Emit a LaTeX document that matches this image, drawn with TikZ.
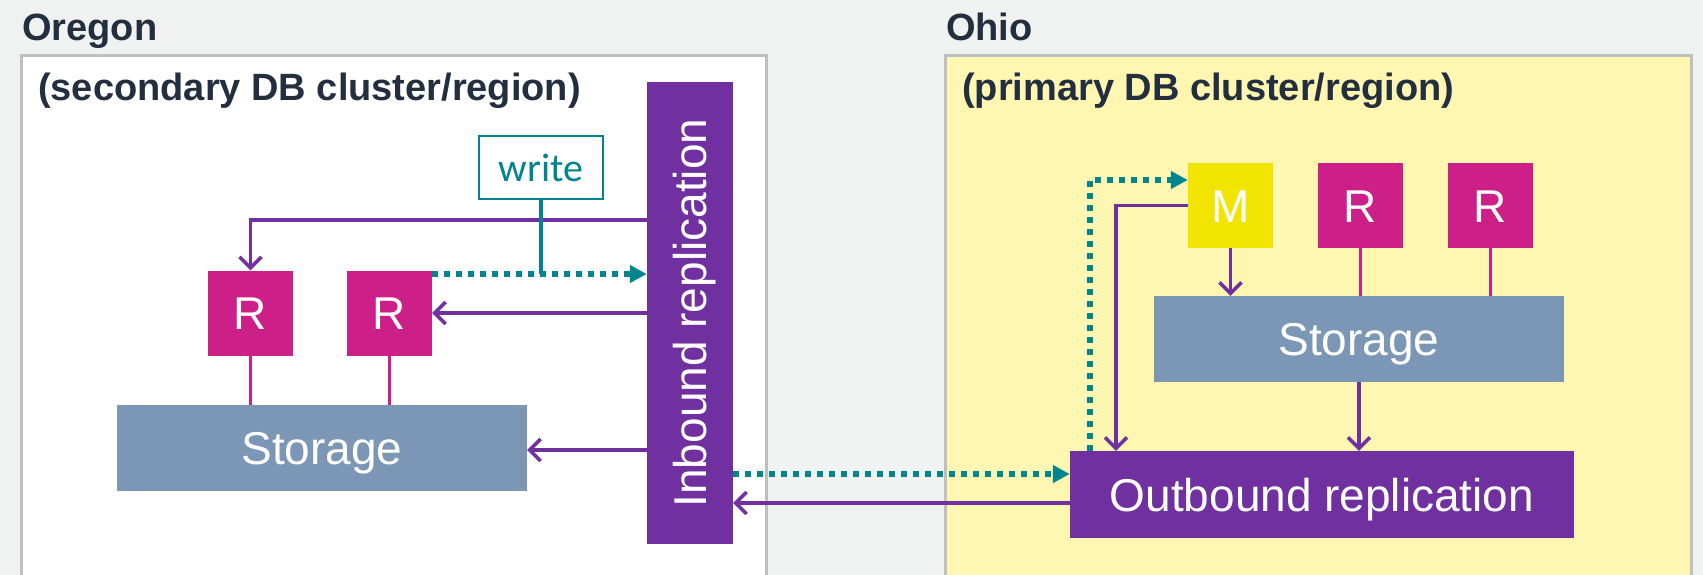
\documentclass[tikz,border=0pt]{standalone}
\usepackage{fontspec}
\setmainfont{Liberation Sans}
\newfontfamily\writefont{Carlito}
\usetikzlibrary{arrows.meta}

\definecolor{bgGray}{HTML}{F0F2F1}
\definecolor{frameGray}{HTML}{BFBFBF}
\definecolor{ohioFill}{HTML}{FFF7B1}
\definecolor{titleInk}{HTML}{232F3E}
\definecolor{replPurple}{HTML}{7030A0}
\definecolor{readerMag}{HTML}{CC1F87}
\definecolor{masterYel}{HTML}{F0E400}
\definecolor{storeBlue}{HTML}{7B97B5}
\definecolor{writeTeal}{HTML}{00858F}

\newcommand{\fs}[1]{\fontsize{#1}{#1}\selectfont}
% set text with no depth so that capitals sit centred in a box
\newcommand{\capline}[1]{\raisebox{0pt}[0.72em][0pt]{#1}}

\tikzset{
  region/.style={draw=frameGray, line width=3pt},
  regiontitle/.style={anchor=base west, inner sep=0pt, text=titleInk, font=\fs{38}\bfseries},
  replica/.style={fill=readerMag, text=white, minimum width=85pt, minimum height=85pt, inner sep=0pt, font=\fs{46}},
  master/.style={replica, fill=masterYel},
  storebox/.style={fill=storeBlue, text=white, minimum width=410pt, minimum height=86pt, inner sep=0pt, font=\fs{46}},
  replbox/.style={fill=replPurple, text=white, inner sep=0pt, font=\fs{46}},
  writebox/.style={draw=writeTeal, line width=2.5pt, fill=white, text=writeTeal, minimum width=124pt, minimum height=63pt, inner sep=0pt, font=\writefont\fs{40}},
  parrow/.style={draw=replPurple, line width=3.5pt, -{Straight Barb[length=11pt,width=22pt]}},
  tealdot/.style={draw=writeTeal, line width=5.5pt, dash pattern=on 6pt off 6pt, -{Triangle[length=17pt,width=17pt]}},
  tealstem/.style={draw=writeTeal, line width=4pt},
  maglink/.style={draw=readerMag, line width=3pt},
}

\begin{document}
\begin{tikzpicture}[x=1pt, y=-1pt]
  % canvas
  \useasboundingbox (0,0) rectangle (1703,575);
  \clip (0,0) rectangle (1703,575);
  \fill[bgGray] (0,0) rectangle (1703,575);

  % region frames
  \draw[region, fill=white] (21.5,56) rectangle (766,620);
  \draw[region, fill=ohioFill] (945,56) rectangle (1691.5,620);

  \node[regiontitle] (oregonTitle) at (22,41) {Oregon};
  \node[regiontitle] (ohioTitle) at (946,41) {Ohio};
  \node[regiontitle] (secTitle) at (38,101) {(secondary DB cluster/region)};
  \node[regiontitle] (priTitle) at (962,101) {(primary DB cluster/region)};

  % secondary cluster
  \node[replica] (r1) at (250.5,313) {\capline{R}};
  \node[replica] (r2) at (389.5,313) {\capline{R}};
  \node[storebox] (storeL) at (322,448) {\capline{Storage}};
  \node[writebox] (write) at (541,167.5) {write};
  \node[replbox, minimum width=86pt, minimum height=462pt] (inbound) at (690,313)
        {\rotatebox{90}{\capline{Inbound replication}}};

  % primary cluster
  \node[master] (m) at (1230.5,205.5) {\capline{M}};
  \node[replica] (r3) at (1360,205.5) {\capline{R}};
  \node[replica] (r4) at (1490.5,205.5) {\capline{R}};
  \node[storebox] (storeR) at (1359,339) {\capline{Storage}};
  \node[replbox, minimum width=504pt, minimum height=87pt] (outbound) at (1322,494.5)
        {\capline{Outbound replication}};

  % replicas attached to storage
  \draw[maglink] (r1.south) -- (r1.south |- storeL.north);
  \draw[maglink] (r2.south) -- (r2.south |- storeL.north);
  \draw[maglink] (r3.south) -- (r3.south |- storeR.north);
  \draw[maglink] (r4.south) -- (r4.south |- storeR.north);

  % inbound replication fan-out
  \draw[parrow] (inbound.west |- 0,220) -| (r1.north);
  \draw[parrow] (inbound.west |- r2.east) -- (r2.east);
  \draw[parrow] (inbound.west |- 0,450) -- (storeL.east |- 0,450);

  % forwarded write
  \draw[tealdot] (r2.east |- 0,274) -- (inbound.west |- 0,274);
  \draw[tealstem] (write.south) -- (write.south |- 0,274);
  \draw[tealdot] (inbound.east |- 0,474) -- (outbound.west |- 0,474);
  \draw[tealdot] (outbound.north -| 1090,0) |- (m.west |- 0,180);

  % primary write path
  \draw[parrow] (m.south) -- (m.south |- storeR.north);
  \draw[parrow] (storeR.south) -- (storeR.south |- outbound.north);
  \draw[parrow] (m.west) -| (outbound.north -| 1116,0);
  \draw[parrow] (outbound.west |- 0,503) -- (inbound.east |- 0,503);
\end{tikzpicture}
\end{document}
